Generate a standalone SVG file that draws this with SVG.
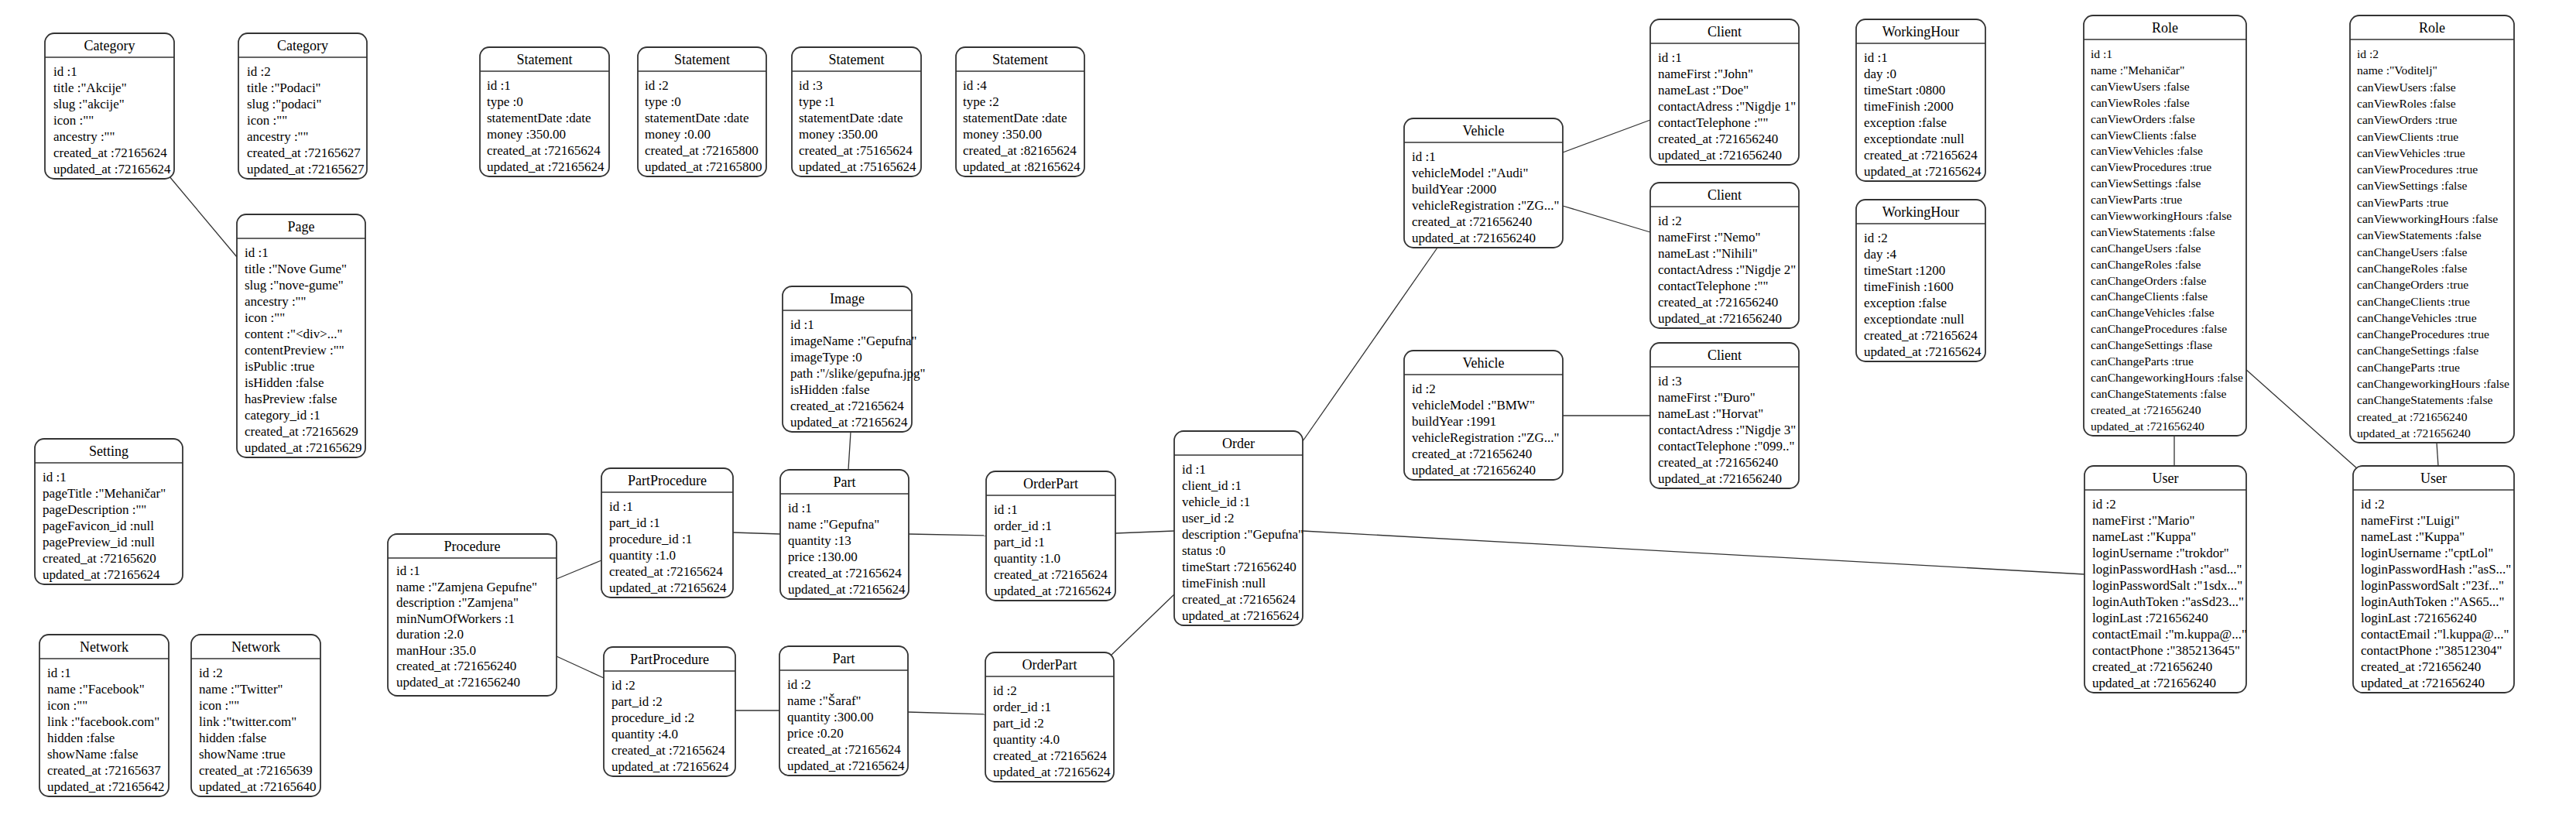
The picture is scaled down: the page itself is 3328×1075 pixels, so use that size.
<svg xmlns="http://www.w3.org/2000/svg" width="3328" height="1075" viewBox="0 0 3328 1075">
<style>
.box{fill:#fff;stroke:#333;stroke-width:1.8}
.hdr{stroke:#333;stroke-width:1.6}
.title{font-family:"Liberation Serif","Times New Roman",serif;font-size:18px;text-anchor:middle;fill:#000}
.row{font-family:"Liberation Serif","Times New Roman",serif;font-size:17px;fill:#000}
.row.sm{font-size:15.6px}
.edge{stroke:#333;stroke-width:1.3;fill:none}
</style>
<rect width="3328" height="1075" fill="#fff"/>
<g id="connectors">
<line class="edge" x1="218" y1="227" x2="306" y2="332"/>
<line class="edge" x1="719" y1="748" x2="777" y2="724"/>
<line class="edge" x1="719" y1="848" x2="780" y2="876"/>
<line class="edge" x1="1099" y1="558" x2="1096" y2="607"/>
<line class="edge" x1="947" y1="688" x2="1008" y2="690"/>
<line class="edge" x1="950" y1="918" x2="1007" y2="918"/>
<line class="edge" x1="1174" y1="690" x2="1274" y2="692"/>
<line class="edge" x1="1173" y1="920" x2="1273" y2="923"/>
<line class="edge" x1="1441" y1="689" x2="1517" y2="686"/>
<line class="edge" x1="1435" y1="847" x2="1517" y2="768"/>
<line class="edge" x1="1683" y1="570" x2="1857" y2="320"/>
<line class="edge" x1="1683" y1="686" x2="2693" y2="742"/>
<line class="edge" x1="2019" y1="197" x2="2132" y2="155"/>
<line class="edge" x1="2019" y1="266" x2="2132" y2="300"/>
<line class="edge" x1="2019" y1="537" x2="2132" y2="537"/>
<line class="edge" x1="2809" y1="563" x2="2809" y2="602"/>
<line class="edge" x1="3148" y1="572" x2="3150" y2="602"/>
<line class="edge" x1="2900" y1="476" x2="3046" y2="606"/>
</g>

<g id="category-1" transform="translate(58,43)">
<rect class="box" width="167" height="188" rx="12"/><line class="hdr" x1="0" y1="31" x2="167" y2="31"/>
<text class="title" x="83.5" y="22">Category</text>
<text class="row" x="11" y="55"><tspan x="11" y="55">id :1</tspan><tspan x="11" dy="21">title :"Akcije"</tspan><tspan x="11" dy="21">slug :"akcije"</tspan><tspan x="11" dy="21">icon :""</tspan><tspan x="11" dy="21">ancestry :""</tspan><tspan x="11" dy="21">created_at :72165624</tspan><tspan x="11" dy="21">updated_at :72165624</tspan></text>
</g>

<g id="category-2" transform="translate(308,43)">
<rect class="box" width="166" height="188" rx="12"/><line class="hdr" x1="0" y1="31" x2="166" y2="31"/>
<text class="title" x="83" y="22">Category</text>
<text class="row" x="11" y="55"><tspan x="11" y="55">id :2</tspan><tspan x="11" dy="21">title :"Podaci"</tspan><tspan x="11" dy="21">slug :"podaci"</tspan><tspan x="11" dy="21">icon :""</tspan><tspan x="11" dy="21">ancestry :""</tspan><tspan x="11" dy="21">created_at :72165627</tspan><tspan x="11" dy="21">updated_at :72165627</tspan></text>
</g>

<g id="page-1" transform="translate(306,277)">
<rect class="box" width="166" height="314" rx="12"/><line class="hdr" x1="0" y1="31" x2="166" y2="31"/>
<text class="title" x="83" y="22">Page</text>
<text class="row" x="10" y="55"><tspan x="10" y="55">id :1</tspan><tspan x="10" dy="21">title :"Nove Gume"</tspan><tspan x="10" dy="21">slug :"nove-gume"</tspan><tspan x="10" dy="21">ancestry :""</tspan><tspan x="10" dy="21">icon :""</tspan><tspan x="10" dy="21">content :"&lt;div&gt;..."</tspan><tspan x="10" dy="21">contentPreview :""</tspan><tspan x="10" dy="21">isPublic :true</tspan><tspan x="10" dy="21">isHidden :false</tspan><tspan x="10" dy="21">hasPreview :false</tspan><tspan x="10" dy="21">category_id :1</tspan><tspan x="10" dy="21">created_at :72165629</tspan><tspan x="10" dy="21">updated_at :72165629</tspan></text>
</g>

<g id="statement-1" transform="translate(620,61)">
<rect class="box" width="167" height="167" rx="12"/><line class="hdr" x1="0" y1="31" x2="167" y2="31"/>
<text class="title" x="83.5" y="22">Statement</text>
<text class="row" x="9" y="55"><tspan x="9" y="55">id :1</tspan><tspan x="9" dy="21">type :0</tspan><tspan x="9" dy="21">statementDate :date</tspan><tspan x="9" dy="21">money :350.00</tspan><tspan x="9" dy="21">created_at :72165624</tspan><tspan x="9" dy="21">updated_at :72165624</tspan></text>
</g>

<g id="statement-2" transform="translate(824,61)">
<rect class="box" width="166" height="167" rx="12"/><line class="hdr" x1="0" y1="31" x2="166" y2="31"/>
<text class="title" x="83" y="22">Statement</text>
<text class="row" x="9" y="55"><tspan x="9" y="55">id :2</tspan><tspan x="9" dy="21">type :0</tspan><tspan x="9" dy="21">statementDate :date</tspan><tspan x="9" dy="21">money :0.00</tspan><tspan x="9" dy="21">created_at :72165800</tspan><tspan x="9" dy="21">updated_at :72165800</tspan></text>
</g>

<g id="statement-3" transform="translate(1023,61)">
<rect class="box" width="167" height="167" rx="12"/><line class="hdr" x1="0" y1="31" x2="167" y2="31"/>
<text class="title" x="83.5" y="22">Statement</text>
<text class="row" x="9" y="55"><tspan x="9" y="55">id :3</tspan><tspan x="9" dy="21">type :1</tspan><tspan x="9" dy="21">statementDate :date</tspan><tspan x="9" dy="21">money :350.00</tspan><tspan x="9" dy="21">created_at :75165624</tspan><tspan x="9" dy="21">updated_at :75165624</tspan></text>
</g>

<g id="statement-4" transform="translate(1235,61)">
<rect class="box" width="166" height="167" rx="12"/><line class="hdr" x1="0" y1="31" x2="166" y2="31"/>
<text class="title" x="83" y="22">Statement</text>
<text class="row" x="9" y="55"><tspan x="9" y="55">id :4</tspan><tspan x="9" dy="21">type :2</tspan><tspan x="9" dy="21">statementDate :date</tspan><tspan x="9" dy="21">money :350.00</tspan><tspan x="9" dy="21">created_at :82165624</tspan><tspan x="9" dy="21">updated_at :82165624</tspan></text>
</g>

<g id="setting-1" transform="translate(45,567)">
<rect class="box" width="191" height="188" rx="12"/><line class="hdr" x1="0" y1="31" x2="191" y2="31"/>
<text class="title" x="95.5" y="22">Setting</text>
<text class="row" x="10" y="55"><tspan x="10" y="55">id :1</tspan><tspan x="10" dy="21">pageTitle :"Mehaničar"</tspan><tspan x="10" dy="21">pageDescription :""</tspan><tspan x="10" dy="21">pageFavicon_id :null</tspan><tspan x="10" dy="21">pagePreview_id :null</tspan><tspan x="10" dy="21">created_at :72165620</tspan><tspan x="10" dy="21">updated_at :72165624</tspan></text>
</g>

<g id="network-1" transform="translate(51,820)">
<rect class="box" width="167" height="209" rx="12"/><line class="hdr" x1="0" y1="31" x2="167" y2="31"/>
<text class="title" x="83.5" y="22">Network</text>
<text class="row" x="10" y="55"><tspan x="10" y="55">id :1</tspan><tspan x="10" dy="21">name :"Facebook"</tspan><tspan x="10" dy="21">icon :""</tspan><tspan x="10" dy="21">link :"facebook.com"</tspan><tspan x="10" dy="21">hidden :false</tspan><tspan x="10" dy="21">showName :false</tspan><tspan x="10" dy="21">created_at :72165637</tspan><tspan x="10" dy="21">updated_at :72165642</tspan></text>
</g>

<g id="network-2" transform="translate(247,820)">
<rect class="box" width="167" height="209" rx="12"/><line class="hdr" x1="0" y1="31" x2="167" y2="31"/>
<text class="title" x="83.5" y="22">Network</text>
<text class="row" x="10" y="55"><tspan x="10" y="55">id :2</tspan><tspan x="10" dy="21">name :"Twitter"</tspan><tspan x="10" dy="21">icon :""</tspan><tspan x="10" dy="21">link :"twitter.com"</tspan><tspan x="10" dy="21">hidden :false</tspan><tspan x="10" dy="21">showName :true</tspan><tspan x="10" dy="21">created_at :72165639</tspan><tspan x="10" dy="21">updated_at :72165640</tspan></text>
</g>

<g id="procedure-1" transform="translate(501,690)">
<rect class="box" width="218" height="209" rx="12"/><line class="hdr" x1="0" y1="31" x2="218" y2="31"/>
<text class="title" x="109" y="22">Procedure</text>
<text class="row" x="11" y="53"><tspan x="11" y="53">id :1</tspan><tspan x="11" dy="20.5">name :"Zamjena Gepufne"</tspan><tspan x="11" dy="20.5">description :"Zamjena"</tspan><tspan x="11" dy="20.5">minNumOfWorkers :1</tspan><tspan x="11" dy="20.5">duration :2.0</tspan><tspan x="11" dy="20.5">manHour :35.0</tspan><tspan x="11" dy="20.5">created_at :721656240</tspan><tspan x="11" dy="20.5">updated_at :721656240</tspan></text>
</g>

<g id="image-1" transform="translate(1011,370)">
<rect class="box" width="167" height="188" rx="12"/><line class="hdr" x1="0" y1="31" x2="167" y2="31"/>
<text class="title" x="83.5" y="22">Image</text>
<text class="row" x="10" y="55"><tspan x="10" y="55">id :1</tspan><tspan x="10" dy="21">imageName :"Gepufna"</tspan><tspan x="10" dy="21">imageType :0</tspan><tspan x="10" dy="21">path :"/slike/gepufna.jpg"</tspan><tspan x="10" dy="21">isHidden :false</tspan><tspan x="10" dy="21">created_at :72165624</tspan><tspan x="10" dy="21">updated_at :72165624</tspan></text>
</g>

<g id="partprocedure-1" transform="translate(777,605)">
<rect class="box" width="170" height="167" rx="12"/><line class="hdr" x1="0" y1="31" x2="170" y2="31"/>
<text class="title" x="85" y="22">PartProcedure</text>
<text class="row" x="10" y="55"><tspan x="10" y="55">id :1</tspan><tspan x="10" dy="21">part_id :1</tspan><tspan x="10" dy="21">procedure_id :1</tspan><tspan x="10" dy="21">quantity :1.0</tspan><tspan x="10" dy="21">created_at :72165624</tspan><tspan x="10" dy="21">updated_at :72165624</tspan></text>
</g>

<g id="part-1" transform="translate(1008,607)">
<rect class="box" width="166" height="167" rx="12"/><line class="hdr" x1="0" y1="31" x2="166" y2="31"/>
<text class="title" x="83" y="22">Part</text>
<text class="row" x="10" y="55"><tspan x="10" y="55">id :1</tspan><tspan x="10" dy="21">name :"Gepufna"</tspan><tspan x="10" dy="21">quantity :13</tspan><tspan x="10" dy="21">price :130.00</tspan><tspan x="10" dy="21">created_at :72165624</tspan><tspan x="10" dy="21">updated_at :72165624</tspan></text>
</g>

<g id="partprocedure-2" transform="translate(780,836)">
<rect class="box" width="170" height="167" rx="12"/><line class="hdr" x1="0" y1="31" x2="170" y2="31"/>
<text class="title" x="85" y="22">PartProcedure</text>
<text class="row" x="10" y="55"><tspan x="10" y="55">id :2</tspan><tspan x="10" dy="21">part_id :2</tspan><tspan x="10" dy="21">procedure_id :2</tspan><tspan x="10" dy="21">quantity :4.0</tspan><tspan x="10" dy="21">created_at :72165624</tspan><tspan x="10" dy="21">updated_at :72165624</tspan></text>
</g>

<g id="part-2" transform="translate(1007,835)">
<rect class="box" width="166" height="167" rx="12"/><line class="hdr" x1="0" y1="31" x2="166" y2="31"/>
<text class="title" x="83" y="22">Part</text>
<text class="row" x="10" y="55"><tspan x="10" y="55">id :2</tspan><tspan x="10" dy="21">name :"Šaraf"</tspan><tspan x="10" dy="21">quantity :300.00</tspan><tspan x="10" dy="21">price :0.20</tspan><tspan x="10" dy="21">created_at :72165624</tspan><tspan x="10" dy="21">updated_at :72165624</tspan></text>
</g>

<g id="orderpart-1" transform="translate(1274,609)">
<rect class="box" width="167" height="167" rx="12"/><line class="hdr" x1="0" y1="31" x2="167" y2="31"/>
<text class="title" x="83.5" y="22">OrderPart</text>
<text class="row" x="10" y="55"><tspan x="10" y="55">id :1</tspan><tspan x="10" dy="21">order_id :1</tspan><tspan x="10" dy="21">part_id :1</tspan><tspan x="10" dy="21">quantity :1.0</tspan><tspan x="10" dy="21">created_at :72165624</tspan><tspan x="10" dy="21">updated_at :72165624</tspan></text>
</g>

<g id="orderpart-2" transform="translate(1273,843)">
<rect class="box" width="166" height="167" rx="12"/><line class="hdr" x1="0" y1="31" x2="166" y2="31"/>
<text class="title" x="83" y="22">OrderPart</text>
<text class="row" x="10" y="55"><tspan x="10" y="55">id :2</tspan><tspan x="10" dy="21">order_id :1</tspan><tspan x="10" dy="21">part_id :2</tspan><tspan x="10" dy="21">quantity :4.0</tspan><tspan x="10" dy="21">created_at :72165624</tspan><tspan x="10" dy="21">updated_at :72165624</tspan></text>
</g>

<g id="order-1" transform="translate(1517,557)">
<rect class="box" width="166" height="251" rx="12"/><line class="hdr" x1="0" y1="31" x2="166" y2="31"/>
<text class="title" x="83" y="22">Order</text>
<text class="row" x="10" y="55"><tspan x="10" y="55">id :1</tspan><tspan x="10" dy="21">client_id :1</tspan><tspan x="10" dy="21">vehicle_id :1</tspan><tspan x="10" dy="21">user_id :2</tspan><tspan x="10" dy="21">description :"Gepufna"</tspan><tspan x="10" dy="21">status :0</tspan><tspan x="10" dy="21">timeStart :721656240</tspan><tspan x="10" dy="21">timeFinish :null</tspan><tspan x="10" dy="21">created_at :72165624</tspan><tspan x="10" dy="21">updated_at :72165624</tspan></text>
</g>

<g id="vehicle-1" transform="translate(1814,153)">
<rect class="box" width="205" height="167" rx="12"/><line class="hdr" x1="0" y1="31" x2="205" y2="31"/>
<text class="title" x="102.5" y="22">Vehicle</text>
<text class="row" x="10" y="55"><tspan x="10" y="55">id :1</tspan><tspan x="10" dy="21">vehicleModel :"Audi"</tspan><tspan x="10" dy="21">buildYear :2000</tspan><tspan x="10" dy="21">vehicleRegistration :"ZG..."</tspan><tspan x="10" dy="21">created_at :721656240</tspan><tspan x="10" dy="21">updated_at :721656240</tspan></text>
</g>

<g id="vehicle-2" transform="translate(1814,453)">
<rect class="box" width="205" height="167" rx="12"/><line class="hdr" x1="0" y1="31" x2="205" y2="31"/>
<text class="title" x="102.5" y="22">Vehicle</text>
<text class="row" x="10" y="55"><tspan x="10" y="55">id :2</tspan><tspan x="10" dy="21">vehicleModel :"BMW"</tspan><tspan x="10" dy="21">buildYear :1991</tspan><tspan x="10" dy="21">vehicleRegistration :"ZG..."</tspan><tspan x="10" dy="21">created_at :721656240</tspan><tspan x="10" dy="21">updated_at :721656240</tspan></text>
</g>

<g id="client-1" transform="translate(2132,25)">
<rect class="box" width="192" height="188" rx="12"/><line class="hdr" x1="0" y1="31" x2="192" y2="31"/>
<text class="title" x="96" y="22">Client</text>
<text class="row" x="10" y="55"><tspan x="10" y="55">id :1</tspan><tspan x="10" dy="21">nameFirst :"John"</tspan><tspan x="10" dy="21">nameLast :"Doe"</tspan><tspan x="10" dy="21">contactAdress :"Nigdje 1"</tspan><tspan x="10" dy="21">contactTelephone :""</tspan><tspan x="10" dy="21">created_at :721656240</tspan><tspan x="10" dy="21">updated_at :721656240</tspan></text>
</g>

<g id="client-2" transform="translate(2132,236)">
<rect class="box" width="192" height="188" rx="12"/><line class="hdr" x1="0" y1="31" x2="192" y2="31"/>
<text class="title" x="96" y="22">Client</text>
<text class="row" x="10" y="55"><tspan x="10" y="55">id :2</tspan><tspan x="10" dy="21">nameFirst :"Nemo"</tspan><tspan x="10" dy="21">nameLast :"Nihili"</tspan><tspan x="10" dy="21">contactAdress :"Nigdje 2"</tspan><tspan x="10" dy="21">contactTelephone :""</tspan><tspan x="10" dy="21">created_at :721656240</tspan><tspan x="10" dy="21">updated_at :721656240</tspan></text>
</g>

<g id="client-3" transform="translate(2132,443)">
<rect class="box" width="192" height="188" rx="12"/><line class="hdr" x1="0" y1="31" x2="192" y2="31"/>
<text class="title" x="96" y="22">Client</text>
<text class="row" x="10" y="55"><tspan x="10" y="55">id :3</tspan><tspan x="10" dy="21">nameFirst :"Đuro"</tspan><tspan x="10" dy="21">nameLast :"Horvat"</tspan><tspan x="10" dy="21">contactAdress :"Nigdje 3"</tspan><tspan x="10" dy="21">contactTelephone :"099.."</tspan><tspan x="10" dy="21">created_at :721656240</tspan><tspan x="10" dy="21">updated_at :721656240</tspan></text>
</g>

<g id="workinghour-1" transform="translate(2398,25)">
<rect class="box" width="167" height="209" rx="12"/><line class="hdr" x1="0" y1="31" x2="167" y2="31"/>
<text class="title" x="83.5" y="22">WorkingHour</text>
<text class="row" x="10" y="55"><tspan x="10" y="55">id :1</tspan><tspan x="10" dy="21">day :0</tspan><tspan x="10" dy="21">timeStart :0800</tspan><tspan x="10" dy="21">timeFinish :2000</tspan><tspan x="10" dy="21">exception :false</tspan><tspan x="10" dy="21">exceptiondate :null</tspan><tspan x="10" dy="21">created_at :72165624</tspan><tspan x="10" dy="21">updated_at :72165624</tspan></text>
</g>

<g id="workinghour-2" transform="translate(2398,258)">
<rect class="box" width="167" height="209" rx="12"/><line class="hdr" x1="0" y1="31" x2="167" y2="31"/>
<text class="title" x="83.5" y="22">WorkingHour</text>
<text class="row" x="10" y="55"><tspan x="10" y="55">id :2</tspan><tspan x="10" dy="21">day :4</tspan><tspan x="10" dy="21">timeStart :1200</tspan><tspan x="10" dy="21">timeFinish :1600</tspan><tspan x="10" dy="21">exception :false</tspan><tspan x="10" dy="21">exceptiondate :null</tspan><tspan x="10" dy="21">created_at :72165624</tspan><tspan x="10" dy="21">updated_at :72165624</tspan></text>
</g>

<g id="role-1" transform="translate(2692,20)">
<rect class="box" width="210" height="543" rx="12"/><line class="hdr" x1="0" y1="31" x2="210" y2="31"/>
<text class="title" x="105" y="22">Role</text>
<text class="row sm" x="9" y="55"><tspan x="9" y="55">id :1</tspan><tspan x="9" dy="20.9">name :"Mehaničar"</tspan><tspan x="9" dy="20.9">canViewUsers :false</tspan><tspan x="9" dy="20.9">canViewRoles :false</tspan><tspan x="9" dy="20.9">canViewOrders :false</tspan><tspan x="9" dy="20.9">canViewClients :false</tspan><tspan x="9" dy="20.9">canViewVehicles :false</tspan><tspan x="9" dy="20.9">canViewProcedures :true</tspan><tspan x="9" dy="20.9">canViewSettings :false</tspan><tspan x="9" dy="20.9">canViewParts :true</tspan><tspan x="9" dy="20.9">canViewworkingHours :false</tspan><tspan x="9" dy="20.9">canViewStatements :false</tspan><tspan x="9" dy="20.9">canChangeUsers :false</tspan><tspan x="9" dy="20.9">canChangeRoles :false</tspan><tspan x="9" dy="20.9">canChangeOrders :false</tspan><tspan x="9" dy="20.9">canChangeClients :false</tspan><tspan x="9" dy="20.9">canChangeVehicles :false</tspan><tspan x="9" dy="20.9">canChangeProcedures :false</tspan><tspan x="9" dy="20.9">canChangeSettings :flase</tspan><tspan x="9" dy="20.9">canChangeParts :true</tspan><tspan x="9" dy="20.9">canChangeworkingHours :false</tspan><tspan x="9" dy="20.9">canChangeStatements :false</tspan><tspan x="9" dy="20.9">created_at :721656240</tspan><tspan x="9" dy="20.9">updated_at :721656240</tspan></text>
</g>

<g id="role-2" transform="translate(3036,20)">
<rect class="box" width="212" height="552" rx="12"/><line class="hdr" x1="0" y1="31" x2="212" y2="31"/>
<text class="title" x="106" y="22">Role</text>
<text class="row sm" x="9" y="55"><tspan x="9" y="55">id :2</tspan><tspan x="9" dy="21.3">name :"Voditelj"</tspan><tspan x="9" dy="21.3">canViewUsers :false</tspan><tspan x="9" dy="21.3">canViewRoles :false</tspan><tspan x="9" dy="21.3">canViewOrders :true</tspan><tspan x="9" dy="21.3">canViewClients :true</tspan><tspan x="9" dy="21.3">canViewVehicles :true</tspan><tspan x="9" dy="21.3">canViewProcedures :true</tspan><tspan x="9" dy="21.3">canViewSettings :false</tspan><tspan x="9" dy="21.3">canViewParts :true</tspan><tspan x="9" dy="21.3">canViewworkingHours :false</tspan><tspan x="9" dy="21.3">canViewStatements :false</tspan><tspan x="9" dy="21.3">canChangeUsers :false</tspan><tspan x="9" dy="21.3">canChangeRoles :false</tspan><tspan x="9" dy="21.3">canChangeOrders :true</tspan><tspan x="9" dy="21.3">canChangeClients :true</tspan><tspan x="9" dy="21.3">canChangeVehicles :true</tspan><tspan x="9" dy="21.3">canChangeProcedures :true</tspan><tspan x="9" dy="21.3">canChangeSettings :false</tspan><tspan x="9" dy="21.3">canChangeParts :true</tspan><tspan x="9" dy="21.3">canChangeworkingHours :false</tspan><tspan x="9" dy="21.3">canChangeStatements :false</tspan><tspan x="9" dy="21.3">created_at :721656240</tspan><tspan x="9" dy="21.3">updated_at :721656240</tspan></text>
</g>

<g id="user-1" transform="translate(2693,602)">
<rect class="box" width="209" height="293" rx="12"/><line class="hdr" x1="0" y1="31" x2="209" y2="31"/>
<text class="title" x="104.5" y="22">User</text>
<text class="row" x="10" y="55"><tspan x="10" y="55">id :2</tspan><tspan x="10" dy="21">nameFirst :"Mario"</tspan><tspan x="10" dy="21">nameLast :"Kuppa"</tspan><tspan x="10" dy="21">loginUsername :"trokdor"</tspan><tspan x="10" dy="21">loginPasswordHash :"asd..."</tspan><tspan x="10" dy="21">loginPasswordSalt :"1sdx..."</tspan><tspan x="10" dy="21">loginAuthToken :"asSd23..."</tspan><tspan x="10" dy="21">loginLast :721656240</tspan><tspan x="10" dy="21">contactEmail :"m.kuppa@..."</tspan><tspan x="10" dy="21">contactPhone :"385213645"</tspan><tspan x="10" dy="21">created_at :721656240</tspan><tspan x="10" dy="21">updated_at :721656240</tspan></text>
</g>

<g id="user-2" transform="translate(3040,602)">
<rect class="box" width="208" height="293" rx="12"/><line class="hdr" x1="0" y1="31" x2="208" y2="31"/>
<text class="title" x="104" y="22">User</text>
<text class="row" x="10" y="55"><tspan x="10" y="55">id :2</tspan><tspan x="10" dy="21">nameFirst :"Luigi"</tspan><tspan x="10" dy="21">nameLast :"Kuppa"</tspan><tspan x="10" dy="21">loginUsername :"cptLol"</tspan><tspan x="10" dy="21">loginPasswordHash :"asS..."</tspan><tspan x="10" dy="21">loginPasswordSalt :"23f..."</tspan><tspan x="10" dy="21">loginAuthToken :"AS65..."</tspan><tspan x="10" dy="21">loginLast :721656240</tspan><tspan x="10" dy="21">contactEmail :"l.kuppa@..."</tspan><tspan x="10" dy="21">contactPhone :"38512304"</tspan><tspan x="10" dy="21">created_at :721656240</tspan><tspan x="10" dy="21">updated_at :721656240</tspan></text>
</g>
</svg>
